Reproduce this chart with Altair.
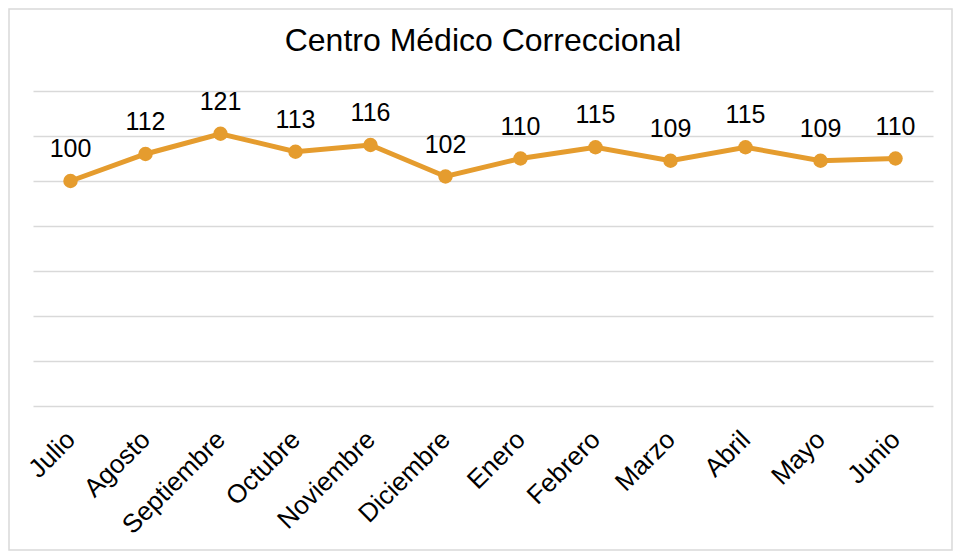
import altair as alt
import pandas as pd

months = ["Julio", "Agosto", "Septiembre", "Octubre", "Noviembre", "Diciembre",
          "Enero", "Febrero", "Marzo", "Abril", "Mayo", "Junio"]
values = [100, 112, 121, 113, 116, 102, 110, 115, 109, 115, 109, 110]
y_ticks = [0, 20, 40, 60, 80, 100, 120, 140]

df = pd.DataFrame({"mes": months, "valor": values})

FONT = "Liberation Sans"
COLOR = "#E59C2E"

x = alt.X("mes:N", sort=months, title=None,
          scale=alt.Scale(type="point", padding=0.5),
          axis=alt.Axis(labelAngle=-45, labelFontSize=26, labelFont=FONT,
                        labelColor="#000000", ticks=False, domain=False,
                        labelPadding=20, labelOffset=-9, grid=False))
y = alt.Y("valor:Q", title=None,
          scale=alt.Scale(domain=[0, 140], nice=False),
          axis=alt.Axis(values=y_ticks, labels=False, ticks=False, domain=False,
                        grid=True, gridColor="#D9D9D9", gridWidth=1.5))

base = alt.Chart(df)

line = base.mark_line(color=COLOR, strokeWidth=5).encode(x=x, y=y)
pts = base.mark_point(filled=True, color=COLOR, size=210, opacity=1).encode(x=x, y=y)
labels = base.mark_text(fontSize=25, font=FONT, color="#000000",
                        baseline="alphabetic", dy=-24).encode(
    x=x, y=y, text=alt.Text("valor:Q"))

frame = alt.Chart(pd.DataFrame({"k": [0]})).mark_rect(
    fill=None, stroke="#D9D9D9", strokeWidth=1.5).encode(
    x=alt.value(-24), x2=alt.value(919), y=alt.value(-82), y2=alt.value(459))

chart = alt.layer(frame, line, pts, labels).properties(
    width=900, height=315,
    title=alt.TitleParams("Centro Médico Correccional", fontSize=32, font=FONT,
                          fontWeight="normal", color="#000000", anchor="middle",
                          baseline="alphabetic", offset=-75),
    autosize=alt.AutoSizeParams(type="none"),
    padding={"left": 25, "top": 83, "right": 20, "bottom": 145},
).configure(background="white").configure_view(stroke=None)

chart.save("out.html", embed_options={"renderer": "svg", "actions": False})
